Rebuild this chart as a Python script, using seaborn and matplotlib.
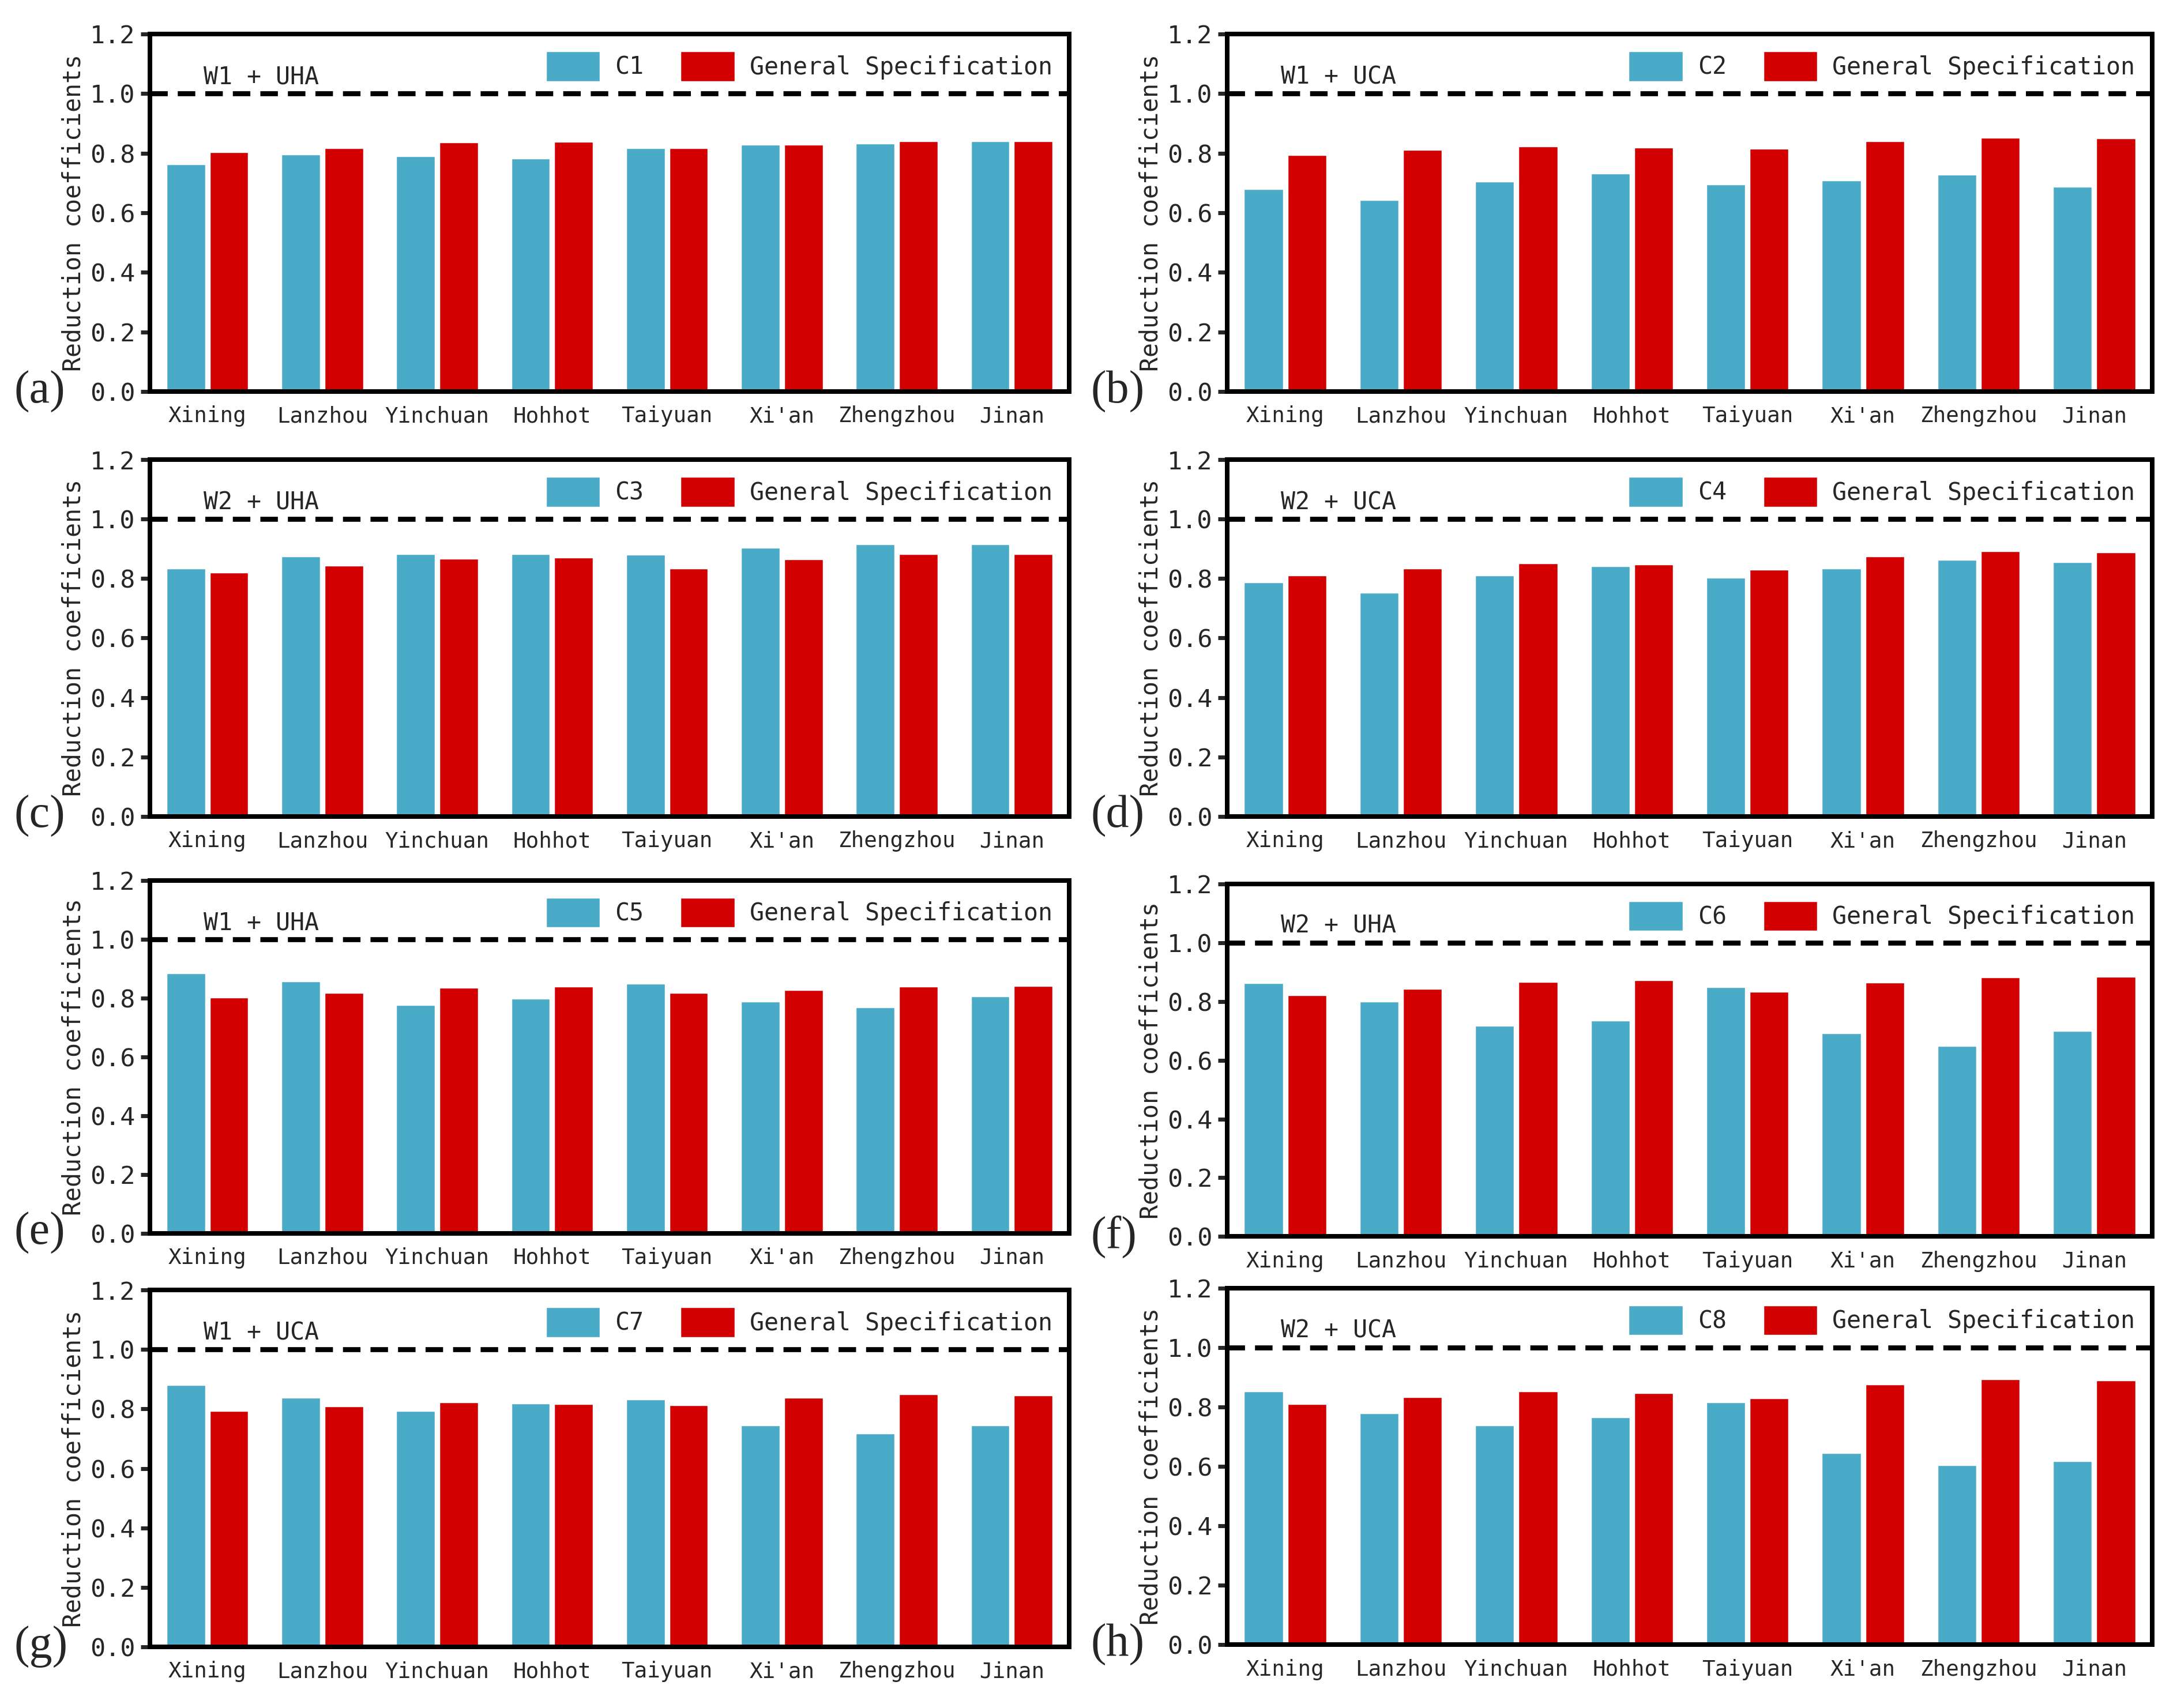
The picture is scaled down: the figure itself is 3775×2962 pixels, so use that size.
import matplotlib
matplotlib.use("Agg")
import matplotlib.pyplot as plt
import pandas as pd
import seaborn as sns


CITIES = ["Xining", "Lanzhou", "Yinchuan", "Hohhot", "Taiyuan", "Xi'an", "Zhengzhou", "Jinan"]

C1 = [0.764, 0.797, 0.792, 0.783, 0.818, 0.830, 0.834, 0.842]
GS1 = [0.805, 0.818, 0.839, 0.840, 0.818, 0.830, 0.842, 0.842]
C2 = [0.682, 0.644, 0.706, 0.733, 0.697, 0.711, 0.729, 0.690]
GS2 = [0.795, 0.812, 0.825, 0.820, 0.816, 0.841, 0.853, 0.851]
C3 = [0.836, 0.876, 0.884, 0.884, 0.882, 0.905, 0.917, 0.917]
GS3 = [0.822, 0.845, 0.868, 0.872, 0.835, 0.867, 0.884, 0.884]
C4 = [0.789, 0.755, 0.812, 0.843, 0.805, 0.836, 0.865, 0.856]
GS4 = [0.812, 0.836, 0.853, 0.850, 0.832, 0.876, 0.894, 0.890]
C5 = [0.886, 0.858, 0.778, 0.800, 0.851, 0.790, 0.770, 0.807]
GS5 = [0.804, 0.819, 0.837, 0.841, 0.819, 0.829, 0.841, 0.842]
C6 = [0.864, 0.801, 0.718, 0.736, 0.850, 0.693, 0.650, 0.701]
GS6 = [0.823, 0.845, 0.867, 0.873, 0.834, 0.866, 0.883, 0.885]
C7 = [0.882, 0.840, 0.795, 0.821, 0.834, 0.747, 0.720, 0.747]
GS7 = [0.795, 0.811, 0.825, 0.818, 0.815, 0.840, 0.851, 0.848]
C8 = [0.855, 0.780, 0.740, 0.766, 0.818, 0.646, 0.605, 0.619]
GS8 = [0.812, 0.835, 0.855, 0.849, 0.831, 0.878, 0.895, 0.890]

CASE_NAMES = ["C1", "C2", "C3", "C4", "C5", "C6", "C7", "C8"]
CONDITIONS = ["W1 + UHA", "W1 + UCA", "W2 + UHA", "W2 + UCA",
              "W1 + UHA", "W2 + UHA", "W1 + UCA", "W2 + UCA"]
PANEL_LABELS = ["(a)", "(b)", "(c)", "(d)", "(e)", "(f)", "(g)", "(h)"]
CASE_VALUES = [C1, C2, C3, C4, C5, C6, C7, C8]
SPEC_VALUES = [GS1, GS2, GS3, GS4, GS5, GS6, GS7, GS8]

BLUE = "#4aabc8"
RED = "#d20000"
MONO = ["DejaVu Sans Mono"]
SERIF = ["Liberation Serif", "DejaVu Serif"]

# axes boxes [left, bottom, width, height] in figure fractions
BOXES = [
    [0.0689, 0.7707, 0.4222, 0.2094], [0.5638, 0.7707, 0.4247, 0.2094],
    [0.0689, 0.5220, 0.4222, 0.2089], [0.5638, 0.5220, 0.4247, 0.2089],
    [0.0689, 0.2780, 0.4222, 0.2066], [0.5638, 0.2760, 0.4247, 0.2066],
    [0.0689, 0.0358, 0.4222, 0.2089], [0.5638, 0.0370, 0.4247, 0.2089],
]


def make_frame(case_name, case_vals, spec_vals):
    rows = []
    for city, cv, sv in zip(CITIES, case_vals, spec_vals):
        rows.append({"city": city, "series": case_name, "value": cv})
        rows.append({"city": city, "series": "General Specification", "value": sv})
    return pd.DataFrame(rows)


def draw_panel(ax, idx):
    df = make_frame(CASE_NAMES[idx], CASE_VALUES[idx], SPEC_VALUES[idx])
    sns.barplot(data=df, x="city", y="value", hue="series", order=CITIES,
                palette=[BLUE, RED], width=0.75, gap=0.08, ax=ax,
                saturation=1, errorbar=None)
    ax.axhline(1.0, color="black", lw=2.5, ls=(0, (3.5, 2.0)), zorder=3)
    ax.set_ylim(0, 1.2)
    ax.set_yticks([0.0, 0.2, 0.4, 0.6, 0.8, 1.0, 1.2])
    ax.set_yticklabels(["0.0", "0.2", "0.4", "0.6", "0.8", "1.0", "1.2"],
                       family=MONO, fontsize=12.5)
    ax.set_xticks(range(len(CITIES)))
    ax.set_xticklabels(CITIES, family=MONO, fontsize=10.8)
    ax.set_xlabel("")
    ax.set_ylabel("Reduction coefficients", family=MONO, fontsize=12, labelpad=2)
    ax.tick_params(axis="y", direction="out", length=4.5, width=2, pad=3)
    ax.tick_params(axis="x", length=0, pad=7)
    for spine in ax.spines.values():
        spine.set_visible(True)
        spine.set_linewidth(2.3)
        spine.set_color("black")

    ax.text(0.058, 0.88, CONDITIONS[idx], transform=ax.transAxes,
            family=MONO, fontsize=12, ha="left", va="center")
    ax.text(-0.148, 0.0, PANEL_LABELS[idx], transform=ax.transAxes,
            family=SERIF, fontsize=23, ha="left", va="center")

    handles, labels = ax.get_legend_handles_labels()
    ax.legend(handles, labels, loc="upper right", bbox_to_anchor=(1.0, 1.0),
              ncol=2, frameon=False, handlelength=2.3, handleheight=1.6,
              handletextpad=0.6, columnspacing=1.5, borderaxespad=0.3,
              prop={"family": MONO, "size": 12})


def main():
    sns.set_style("ticks")
    plt.rcParams["font.family"] = MONO
    fig = plt.figure(figsize=(15.1, 11.848), dpi=250)
    for idx, box in enumerate(BOXES):
        ax = fig.add_axes(box)
        draw_panel(ax, idx)
    fig.savefig("out.png", dpi=250)
    plt.close(fig)


if __name__ == "__main__":
    main()
